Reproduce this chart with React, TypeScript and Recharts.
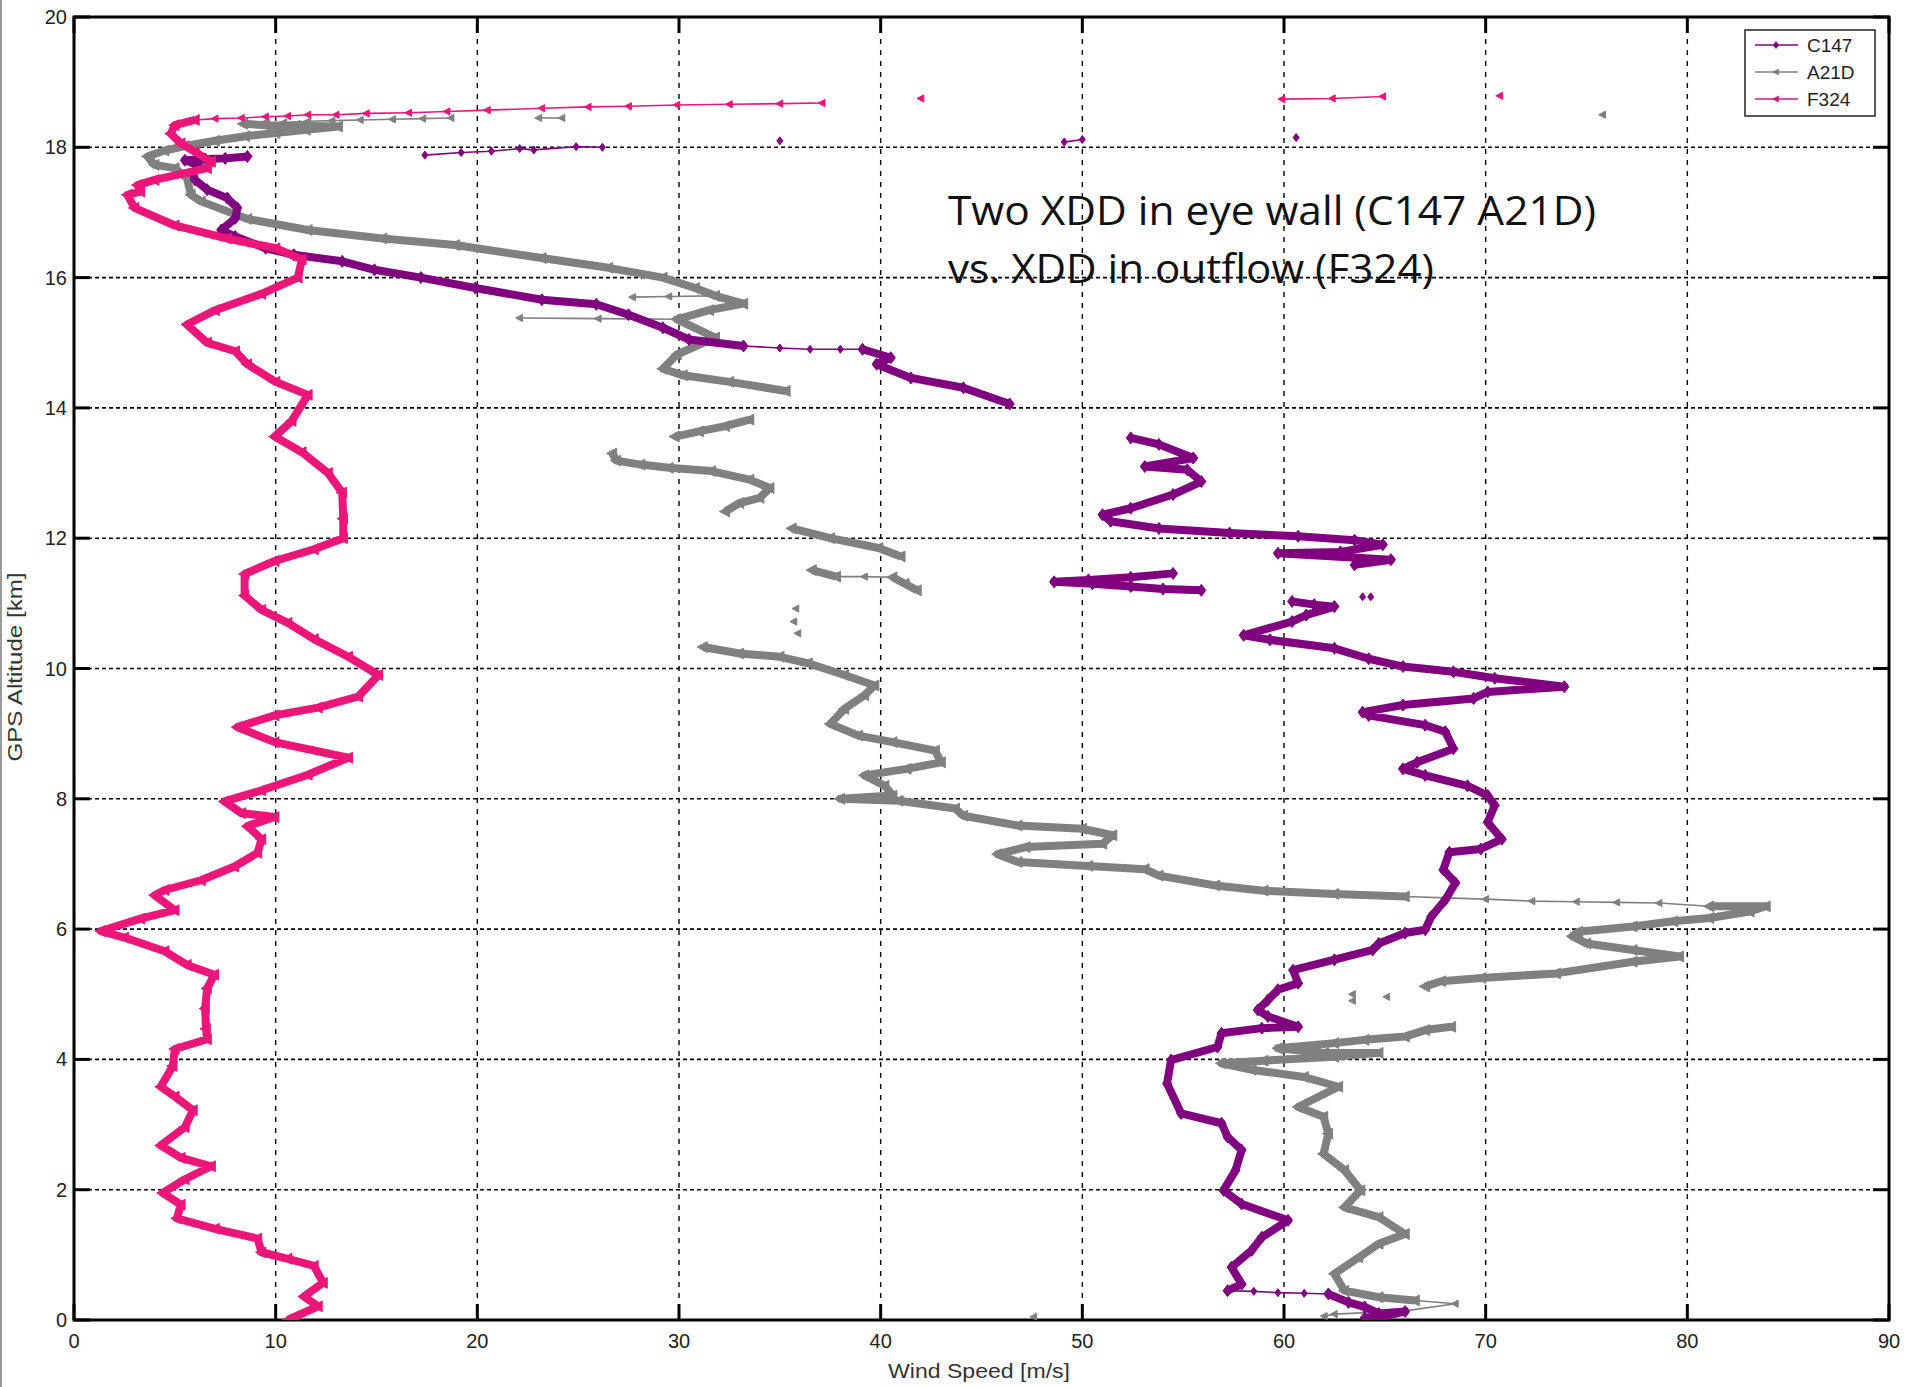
import { ScatterChart, Scatter, XAxis, YAxis, CartesianGrid, ReferenceArea } from "recharts";

const W = 1911;
const H = 1387;
const PLOT_LEFT = 74;
const PLOT_TOP = 17;
const PLOT_RIGHT = 1889;
const PLOT_BOTTOM = 1320;

const speedTicks = [0, 10, 20, 30, 40, 50, 60, 70, 80, 90];
const altitudeTicks = [0, 2, 4, 6, 8, 10, 12, 14, 16, 18, 20];

const C147_COLOR = "#800080";
const A21D_COLOR = "#808080";
const F324_COLOR = "#ec1679";

// [wind speed m/s, gps altitude km]
const f324Profile = [
  [10.6, 0.0], [10.95, 0.05], [12.1, 0.21], [11.4, 0.36], [12.35, 0.57], [11.9, 0.83], [10.6, 0.94],
  [9.3, 1.04], [9.1, 1.25], [7.0, 1.4], [5.1, 1.56], [5.3, 1.77], [4.4, 1.95], [5.5, 2.16], [6.8, 2.36],
  [5.3, 2.49], [4.3, 2.68], [5.5, 2.96], [5.9, 3.22], [5.0, 3.43], [4.3, 3.58], [4.9, 3.9], [5.0, 4.16],
  [6.6, 4.31], [6.55, 4.47], [6.5, 4.78], [6.6, 5.09], [6.96, 5.3], [5.6, 5.45], [4.5, 5.66], [2.5, 5.87],
  [1.33, 5.97], [3.3, 6.16], [5.0, 6.29], [4.0, 6.52], [4.5, 6.6], [6.3, 6.75], [7.96, 6.96], [9.1, 7.17],
  [9.3, 7.38], [8.6, 7.58], [9.95, 7.72], [8.3, 7.78], [7.46, 7.96], [9.3, 8.13], [11.6, 8.37], [13.6, 8.63],
  [9.95, 8.87], [8.1, 9.1], [9.95, 9.28], [12.1, 9.4], [14.1, 9.57], [15.1, 9.9], [13.6, 10.18], [11.9, 10.45],
  [10.6, 10.7], [9.3, 10.9], [8.46, 11.12], [8.46, 11.45], [9.95, 11.65], [11.9, 11.83], [13.35, 12.0],
  [13.35, 12.3], [13.3, 12.7], [12.6, 13.0], [11.3, 13.32], [9.95, 13.56], [10.8, 13.8], [11.6, 14.2],
  [10.0, 14.4], [8.6, 14.67], [8.0, 14.87], [6.6, 15.0], [5.6, 15.28], [7.0, 15.5], [9.3, 15.75], [11.1, 16.0],
  [11.3, 16.28], [10.0, 16.45], [7.6, 16.6], [5.0, 16.8], [3.0, 17.07], [2.65, 17.27], [3.3, 17.32],
  [3.15, 17.42], [4.0, 17.5], [6.6, 17.68], [6.8, 17.78], [6.0, 17.93], [5.3, 18.06], [4.8, 18.21],
  [5.0, 18.34], [6.0, 18.42],
];
const f324TopTrail = [
  [6.0, 18.42], [7.0, 18.44], [8.3, 18.45], [9.5, 18.47], [10.6, 18.48], [11.6, 18.5], [13.0, 18.5],
  [14.5, 18.52], [16.6, 18.53], [18.5, 18.55], [20.5, 18.57], [23.2, 18.6], [25.5, 18.62], [27.5, 18.63],
  [29.9, 18.65], [32.5, 18.66], [35.0, 18.67], [37.1, 18.68],
];
const f324HighBits = [[59.9, 18.74], [62.4, 18.75], [64.9, 18.78]];
const f324Dots = [[42.0, 18.75], [70.7, 18.79]];

const c147Upper = [
  [8.6, 17.86], [7.5, 17.83], [6.5, 17.82], [5.5, 17.8], [6.2, 17.72], [5.9, 17.6], [6.0, 17.5], [6.6, 17.35],
  [7.6, 17.22], [8.1, 17.07], [8.0, 16.91], [7.3, 16.73], [8.0, 16.63], [9.5, 16.45], [10.9, 16.35],
  [13.3, 16.25], [14.9, 16.12], [17.2, 16.0], [19.9, 15.84], [23.2, 15.66], [25.9, 15.59], [27.5, 15.43],
  [29.2, 15.23], [30.5, 15.05], [33.2, 14.95],
];
const c147Link = [[33.2, 14.95], [35.0, 14.92], [36.5, 14.9], [38.0, 14.9], [39.1, 14.9]];
const c147UpperEnd = [[39.1, 14.9], [40.5, 14.77], [39.8, 14.67], [41.5, 14.46], [44.1, 14.31], [46.4, 14.06]];
const c147TopTrail = [[17.4, 17.88], [19.2, 17.92], [20.7, 17.94], [22.1, 17.98], [22.8, 17.96], [24.9, 18.01], [26.2, 18.0]];
const c147TopPair = [[49.1, 18.08], [50.0, 18.12]];
const c147Dots = [[35.0, 18.1], [60.6, 18.15], [63.9, 11.1], [64.3, 11.1]];
const c147Mid = [
  [52.4, 13.54], [53.8, 13.44], [55.5, 13.23], [53.1, 13.1], [55.2, 13.05], [55.9, 12.87], [54.5, 12.67],
  [52.4, 12.46], [51.0, 12.36], [51.4, 12.26], [53.8, 12.15], [57.3, 12.08], [60.7, 12.03], [63.5, 11.97],
  [64.9, 11.9], [62.8, 11.79], [59.7, 11.77], [65.3, 11.67], [63.5, 11.59],
];
const c147Side = [
  [54.5, 11.46], [52.4, 11.4], [50.3, 11.36], [48.6, 11.33], [50.5, 11.3], [52.4, 11.26], [54.0, 11.22], [55.9, 11.2],
];
const c147Lower = [
  [60.4, 11.03], [61.5, 10.98], [62.5, 10.95], [61.1, 10.82], [60.4, 10.72], [58.0, 10.51], [59.3, 10.44],
  [62.5, 10.31], [64.2, 10.15], [65.9, 10.03], [68.4, 9.95], [70.45, 9.85], [73.9, 9.72], [70.1, 9.64],
  [69.4, 9.54], [65.9, 9.44], [63.9, 9.33], [64.2, 9.28], [67.0, 9.13], [68.0, 9.03], [68.4, 8.77],
  [66.6, 8.56], [65.9, 8.46], [67.0, 8.36], [69.1, 8.2], [70.1, 8.05], [70.45, 7.9], [70.1, 7.64],
  [70.8, 7.38], [69.76, 7.23], [68.2, 7.18], [67.9, 6.91], [68.5, 6.71], [68.0, 6.45], [67.3, 6.19],
  [67.0, 5.99], [66.0, 5.94], [64.7, 5.78], [64.4, 5.68], [62.5, 5.53], [60.45, 5.37], [60.7, 5.17],
  [59.7, 5.07], [59.2, 4.91], [58.7, 4.76], [59.2, 4.66], [60.7, 4.5], [58.9, 4.48], [56.9, 4.4],
  [56.7, 4.19], [54.4, 3.99], [54.2, 3.63], [54.9, 3.17], [56.9, 3.02], [57.2, 2.81], [57.9, 2.61],
  [57.6, 2.3], [57.0, 1.99], [57.9, 1.78], [60.2, 1.53], [58.9, 1.27], [58.4, 1.07], [57.4, 0.81],
  [57.9, 0.55], [57.2, 0.45],
];
const c147SurfaceLink = [[57.2, 0.45], [58.5, 0.44], [59.7, 0.42], [61.0, 0.41], [62.2, 0.4]];
const c147Surface = [[62.2, 0.4], [63.2, 0.27], [64.0, 0.2], [64.7, 0.1], [66.0, 0.13], [65.0, 0.06], [64.0, 0.03]];

const a21dTopTrail = [
  [18.7, 18.45], [17.3, 18.44], [15.8, 18.43], [14.2, 18.42], [12.8, 18.41], [11.6, 18.4], [10.4, 18.38],
  [9.4, 18.37], [8.4, 18.36],
];
const a21dUpper = [
  [8.4, 18.36], [9.5, 18.34], [11.0, 18.33], [13.1, 18.32], [11.5, 18.27], [10.0, 18.22], [8.5, 18.17],
  [7.0, 18.1], [5.5, 18.02], [4.5, 17.95], [3.65, 17.86], [4.0, 17.73], [5.0, 17.68], [5.6, 17.53],
  [5.8, 17.27], [6.3, 17.17], [8.6, 16.9], [11.6, 16.73], [15.3, 16.6], [18.9, 16.5], [23.2, 16.3],
  [26.5, 16.15], [29.2, 16.0], [30.8, 15.84], [31.8, 15.72], [33.2, 15.6], [31.5, 15.5], [29.9, 15.36],
  [31.8, 15.08], [29.9, 14.82], [29.2, 14.6], [30.2, 14.5], [32.5, 14.4], [35.3, 14.26],
];
const a21dSpikeA = [[31.8, 15.72], [29.5, 15.71], [27.7, 15.7]];
const a21dSpikeB = [[29.9, 15.36], [26.0, 15.37], [22.1, 15.38]];
const a21dHighPair = [[23.05, 18.45], [24.2, 18.45]];
const a21dSeg1 = [[29.8, 13.56], [31.0, 13.64], [32.3, 13.72], [33.5, 13.82]];
const a21dSeg2 = [
  [26.7, 13.3], [26.9, 13.19], [28.1, 13.13], [29.5, 13.08], [31.6, 13.03], [33.5, 12.9], [34.5, 12.77],
  [34.0, 12.62], [33.0, 12.54], [32.3, 12.41],
];
const a21dSeg3 = [[35.6, 12.15], [37.5, 12.0], [39.9, 11.85], [41.0, 11.72]];
const a21dSeg4 = [[36.6, 11.51], [37.8, 11.41]];
const a21dSeg4Link = [[37.8, 11.41], [39.2, 11.41], [40.6, 11.4]];
const a21dSeg5 = [[40.6, 11.4], [41.2, 11.3], [41.8, 11.2]];
const a21dDots = [
  [35.8, 10.92], [35.7, 10.72], [35.9, 10.54], [63.4, 5.0], [63.4, 4.9], [65.1, 4.96], [47.6, 0.05], [75.8, 18.5],
];
const a21dMain = [
  [31.2, 10.33], [33.0, 10.23], [35.0, 10.18], [36.4, 10.08], [38.2, 9.9], [39.7, 9.74], [39.2, 9.59],
  [38.2, 9.38], [37.5, 9.15], [38.9, 8.97], [40.6, 8.87], [42.7, 8.74], [43.0, 8.56], [41.3, 8.46],
  [39.2, 8.36], [40.2, 8.2], [40.6, 8.05], [38.0, 8.0], [40.9, 7.97], [43.7, 7.85], [44.1, 7.74],
  [46.8, 7.59], [50.0, 7.54], [51.5, 7.44], [51.0, 7.31], [47.2, 7.26], [45.8, 7.15], [46.8, 7.03],
  [50.3, 6.97], [53.1, 6.92], [53.8, 6.82], [56.6, 6.67], [59.0, 6.59], [62.5, 6.54], [66.0, 6.5],
];
const a21dJet = [
  [66.0, 6.5], [68.0, 6.48], [70.0, 6.46], [72.3, 6.43], [74.5, 6.42], [76.5, 6.41], [78.6, 6.4], [81.1, 6.35],
];
const a21dJetCore = [
  [81.1, 6.35], [83.9, 6.35], [83.1, 6.27], [81.1, 6.17], [79.3, 6.12], [77.3, 6.04], [74.6, 5.96],
  [74.3, 5.89], [75.0, 5.78], [77.3, 5.68], [79.6, 5.58], [77.3, 5.5], [73.5, 5.32], [69.8, 5.25],
  [67.8, 5.2], [67.0, 5.12],
];
const a21dLower = [
  [68.3, 4.5], [67.0, 4.45], [66.0, 4.35], [64.0, 4.3], [62.5, 4.25], [59.7, 4.17], [62.0, 4.1], [64.7, 4.1],
  [62.5, 4.04], [59.0, 3.98], [56.9, 3.94], [58.4, 3.84], [61.0, 3.73], [62.7, 3.58], [60.7, 3.27],
  [61.96, 3.12], [62.2, 2.86], [61.96, 2.55], [63.0, 2.3], [63.8, 1.99], [63.0, 1.73], [64.7, 1.58],
  [66.0, 1.32], [64.7, 1.17], [63.7, 0.96], [62.5, 0.71], [63.0, 0.45], [64.7, 0.35], [66.5, 0.3],
];
const a21dSurface = [[66.5, 0.3], [68.5, 0.25], [66.0, 0.14], [62.5, 0.09], [62.0, 0.06]];

type Kind = "dense" | "sparse" | "dots";
const segments: { key: string; data: number[][]; color: string; marker: "diamond" | "tri"; kind: Kind }[] = [
  { key: "a21d-top", data: a21dTopTrail, color: A21D_COLOR, marker: "tri", kind: "sparse" },
  { key: "a21d-up", data: a21dUpper, color: A21D_COLOR, marker: "tri", kind: "dense" },
  { key: "a21d-spA", data: a21dSpikeA, color: A21D_COLOR, marker: "tri", kind: "sparse" },
  { key: "a21d-spB", data: a21dSpikeB, color: A21D_COLOR, marker: "tri", kind: "sparse" },
  { key: "a21d-hp", data: a21dHighPair, color: A21D_COLOR, marker: "tri", kind: "sparse" },
  { key: "a21d-s1", data: a21dSeg1, color: A21D_COLOR, marker: "tri", kind: "dense" },
  { key: "a21d-s2", data: a21dSeg2, color: A21D_COLOR, marker: "tri", kind: "dense" },
  { key: "a21d-s3", data: a21dSeg3, color: A21D_COLOR, marker: "tri", kind: "dense" },
  { key: "a21d-s4", data: a21dSeg4, color: A21D_COLOR, marker: "tri", kind: "dense" },
  { key: "a21d-s4l", data: a21dSeg4Link, color: A21D_COLOR, marker: "tri", kind: "sparse" },
  { key: "a21d-s5", data: a21dSeg5, color: A21D_COLOR, marker: "tri", kind: "dense" },
  { key: "a21d-dots", data: a21dDots, color: A21D_COLOR, marker: "tri", kind: "dots" },
  { key: "a21d-main", data: a21dMain, color: A21D_COLOR, marker: "tri", kind: "dense" },
  { key: "a21d-jet", data: a21dJet, color: A21D_COLOR, marker: "tri", kind: "sparse" },
  { key: "a21d-core", data: a21dJetCore, color: A21D_COLOR, marker: "tri", kind: "dense" },
  { key: "a21d-low", data: a21dLower, color: A21D_COLOR, marker: "tri", kind: "dense" },
  { key: "a21d-sfc", data: a21dSurface, color: A21D_COLOR, marker: "tri", kind: "sparse" },
  { key: "c147-top", data: c147TopTrail, color: C147_COLOR, marker: "diamond", kind: "sparse" },
  { key: "c147-tp", data: c147TopPair, color: C147_COLOR, marker: "diamond", kind: "sparse" },
  { key: "c147-dots", data: c147Dots, color: C147_COLOR, marker: "diamond", kind: "dots" },
  { key: "c147-up", data: c147Upper, color: C147_COLOR, marker: "diamond", kind: "dense" },
  { key: "c147-link", data: c147Link, color: C147_COLOR, marker: "diamond", kind: "sparse" },
  { key: "c147-upend", data: c147UpperEnd, color: C147_COLOR, marker: "diamond", kind: "dense" },
  { key: "c147-mid", data: c147Mid, color: C147_COLOR, marker: "diamond", kind: "dense" },
  { key: "c147-side", data: c147Side, color: C147_COLOR, marker: "diamond", kind: "dense" },
  { key: "c147-low", data: c147Lower, color: C147_COLOR, marker: "diamond", kind: "dense" },
  { key: "c147-sl", data: c147SurfaceLink, color: C147_COLOR, marker: "diamond", kind: "sparse" },
  { key: "c147-sfc", data: c147Surface, color: C147_COLOR, marker: "diamond", kind: "dense" },
  { key: "f324-main", data: f324Profile, color: F324_COLOR, marker: "tri", kind: "dense" },
  { key: "f324-top", data: f324TopTrail, color: F324_COLOR, marker: "tri", kind: "sparse" },
  { key: "f324-hi", data: f324HighBits, color: F324_COLOR, marker: "tri", kind: "sparse" },
  { key: "f324-dots", data: f324Dots, color: F324_COLOR, marker: "tri", kind: "dots" },
];

const toPoints = (arr: number[][]) => arr.map(([speed, alt]) => ({ speed, alt }));

function markerPath(marker: string, cx: number, cy: number, r: number) {
  if (marker === "diamond") {
    return `M${cx},${cy - r} L${cx + r * 0.75},${cy} L${cx},${cy + r} L${cx - r * 0.75},${cy} Z`;
  }
  return `M${cx - r},${cy} L${cx + r * 0.7},${cy - r * 0.9} L${cx + r * 0.7},${cy + r * 0.9} Z`;
}

function makeShape(marker: string, color: string, r: number) {
  return (props: any) => {
    const { cx, cy } = props;
    if (cx == null || cy == null) return <g />;
    return <path d={markerPath(marker, cx, cy, r)} fill={color} stroke={color} strokeWidth={1} />;
  };
}

const tickFont = "'Liberation Sans', Arial, sans-serif";

function XTick(props: any) {
  const { x, payload } = props;
  return (
    <g>
      <line x1={x} x2={x} y1={PLOT_BOTTOM} y2={PLOT_BOTTOM - 16} stroke="#000" strokeWidth={3} />
      <line x1={x} x2={x} y1={PLOT_TOP} y2={PLOT_TOP + 16} stroke="#000" strokeWidth={3} />
      <text x={x} y={PLOT_BOTTOM + 28} textAnchor="middle" fontSize={20} fontFamily={tickFont} fill="#222">
        {payload.value}
      </text>
    </g>
  );
}

function YTick(props: any) {
  const { y, payload } = props;
  return (
    <g>
      <line x1={PLOT_LEFT} x2={PLOT_LEFT + 16} y1={y} y2={y} stroke="#000" strokeWidth={3} />
      <line x1={PLOT_RIGHT} x2={PLOT_RIGHT - 16} y1={y} y2={y} stroke="#000" strokeWidth={3} />
      <text x={PLOT_LEFT - 7} y={y + 7} textAnchor="end" fontSize={20} fontFamily={tickFont} fill="#222">
        {payload.value}
      </text>
    </g>
  );
}

const legendItems = [
  { label: "C147", color: C147_COLOR, marker: "diamond" },
  { label: "A21D", color: A21D_COLOR, marker: "tri" },
  { label: "F324", color: "#c8217a", marker: "tri" },
];

export default function App() {
  return (
    <div style={{ position: "absolute", left: 0, top: 0, width: W, height: H, background: "#fff" }}>
      <div style={{ position: "absolute", left: 0, top: 0, width: 2, height: H, background: "#9a9a9a" }} />
      <ScatterChart width={W} height={H} margin={{ top: PLOT_TOP, right: W - PLOT_RIGHT, bottom: 0, left: 0 }}>
        <CartesianGrid horizontal={false} stroke="#000" strokeWidth={1.4} strokeDasharray="5 6" />
        <CartesianGrid vertical={false} stroke="#000" strokeWidth={1.6} strokeDasharray="4 3" />
        <XAxis
          type="number"
          dataKey="speed"
          domain={[0, 90]}
          ticks={speedTicks}
          interval={0}
          allowDataOverflow
          axisLine={false}
          tickLine={false}
          height={H - PLOT_BOTTOM}
          tick={<XTick />}
        />
        <YAxis
          type="number"
          dataKey="alt"
          domain={[0, 20]}
          ticks={altitudeTicks}
          interval={0}
          allowDataOverflow
          axisLine={false}
          tickLine={false}
          width={PLOT_LEFT}
          tick={<YTick />}
        />
        {segments.map((seg) => {
          const r = seg.kind === "dense" ? 6 : 4;
          const line =
            seg.kind === "dots"
              ? false
              : { stroke: seg.color, strokeWidth: seg.kind === "dense" ? 8 : 1.6, strokeLinejoin: "round" as const };
          return (
            <Scatter
              key={seg.key}
              data={toPoints(seg.data)}
              fill={seg.color}
              line={line}
              shape={makeShape(seg.marker, seg.color, r)}
              isAnimationActive={false}
              legendType="none"
            />
          );
        })}
        <ReferenceArea x1={0} x2={90} y1={0} y2={20} fill="none" fillOpacity={0} stroke="#000" strokeWidth={3} ifOverflow="visible" />
      </ScatterChart>
      <svg width={W} height={H} style={{ position: "absolute", left: 0, top: 0, pointerEvents: "none" }}>
        <text x={979} y={1378} textAnchor="middle" fontSize={21} fontFamily={tickFont} fill="#333" textLength={182} lengthAdjust="spacingAndGlyphs">
          Wind Speed [m/s]
        </text>
        <text
          transform="translate(22,667) rotate(-90)"
          textAnchor="middle"
          fontSize={21}
          fontFamily={tickFont}
          fill="#333"
          textLength={189}
          lengthAdjust="spacingAndGlyphs"
        >
          GPS Altitude [km]
        </text>
        <text x={948} y={225} fontSize={40} fontFamily="'Open Sans', 'Noto Sans', sans-serif" fill="#111" textLength={648} lengthAdjust="spacingAndGlyphs">
          Two XDD in eye wall (C147 A21D)
        </text>
        <text x={948} y={283} fontSize={40} fontFamily="'Open Sans', 'Noto Sans', sans-serif" fill="#111" textLength={486} lengthAdjust="spacingAndGlyphs">
          vs. XDD in outflow (F324)
        </text>
        <rect x={1745} y={30} width={130} height={86} fill="#fff" stroke="#222" strokeWidth={1.5} />
        {legendItems.map((item, i) => {
          const y = 45 + i * 27;
          return (
            <g key={item.label}>
              <line x1={1755} x2={1798} y1={y} y2={y} stroke={item.color} strokeWidth={1.6} />
              <path d={markerPath(item.marker, 1776, y, 4)} fill={item.color} />
              <text x={1807} y={y + 7} fontSize={19} fontFamily={tickFont} fill="#222">
                {item.label}
              </text>
            </g>
          );
        })}
      </svg>
    </div>
  );
}
